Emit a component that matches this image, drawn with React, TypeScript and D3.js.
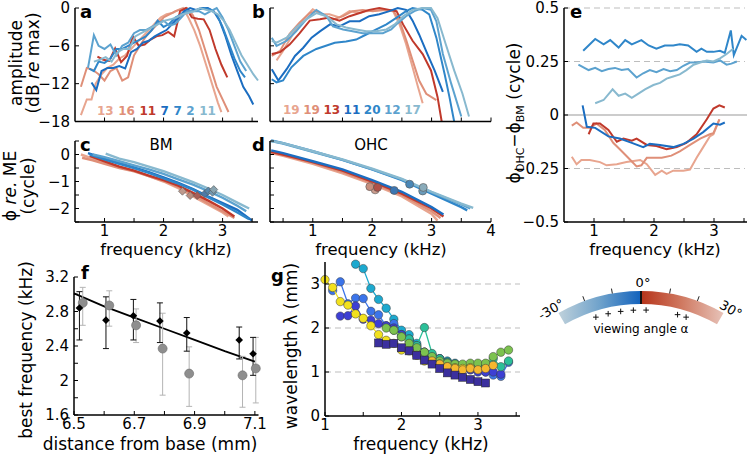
import React from "react";
import * as d3 from "d3";

const FONT = "'DejaVu Sans', Verdana, sans-serif";

// ---------- shared colours / labels ----------
const recColors = ["#e8a58f", "#df8f78", "#c0392b", "#1b6dc1", "#2f86c9", "#5ca2cf", "#88b9cf"];
const labelsA = ["13", "16", "11", "7", "7", "2", "11"];
const labelsB = ["19", "19", "13", "11", "20", "12", "17"];

// ---------- panel a : amplitude (freq kHz, dB) ----------
const ampA: [number, number][][] = [
  [[0.6,-17],[0.7,-14.5],[0.78,-14.5],[0.85,-12],[0.95,-10.5],[1.05,-9.5],[1.15,-9],[1.25,-8],[1.35,-7.5],[1.45,-6.5],[1.55,-5.5],[1.65,-4.5],[1.75,-3.5],[1.85,-2.5],[1.95,-1.5],[2.05,-1],[2.15,-0.8],[2.25,-0.3],[2.33,0],[2.42,-1.5],[2.52,-3.5],[2.62,-6],[2.72,-9],[2.82,-12],[2.92,-15],[2.98,-16.5]],
  [[0.6,-12.5],[0.7,-9.5],[0.8,-9.8],[0.9,-10.5],[1.0,-11.5],[1.1,-10],[1.2,-9.5],[1.3,-11.5],[1.4,-11],[1.5,-7.5],[1.6,-6],[1.7,-4.5],[1.8,-3.5],[1.9,-2.5],[2.0,-1.5],[2.1,-1],[2.2,-0.5],[2.3,-0.2],[2.4,0],[2.5,-1.2],[2.6,-3.5],[2.7,-6.5],[2.8,-9.5],[2.9,-12.5],[3.0,-14.5],[3.1,-16.5]],
  [[0.88,-7.7],[0.98,-8.2],[1.08,-8.4],[1.18,-6.4],[1.28,-8.6],[1.38,-7.6],[1.48,-4.5],[1.58,-6],[1.68,-5.8],[1.78,-5],[1.88,-4.5],[1.98,-4.3],[2.08,-3.8],[2.18,-4.5],[2.28,-0.5],[2.38,0],[2.48,-1.5],[2.58,-1.7],[2.68,-1.8],[2.78,-3.5],[2.88,-6.5],[2.98,-9],[3.08,-11]],
  [[0.78,-11.8],[0.86,-13],[0.95,-10],[1.05,-9.5],[1.15,-9.5],[1.25,-9.2],[1.35,-9.6],[1.45,-7],[1.55,-6.5],[1.65,-5.5],[1.75,-5.2],[1.85,-4.5],[1.95,-4],[2.05,-3.5],[2.15,-2.5],[2.25,-1.5],[2.35,-0.5],[2.45,0],[2.55,-0.3],[2.65,0],[2.75,0],[2.85,-0.5],[2.95,-2],[3.05,-4.5],[3.15,-7.5],[3.25,-10],[3.35,-12.5],[3.45,-14],[3.52,-15.3]],
  [[0.74,-9.6],[0.82,-10],[0.9,-8.5],[1.0,-8.7],[1.1,-8],[1.2,-6.5],[1.3,-6.5],[1.4,-6],[1.5,-5.5],[1.6,-5],[1.7,-4.5],[1.8,-3.5],[1.9,-2],[2.0,-3],[2.1,-2.5],[2.2,-1.5],[2.3,-1],[2.4,-0.5],[2.5,-0.5],[2.6,-0.2],[2.7,0],[2.8,-0.3],[2.9,-1],[3.0,-3],[3.1,-5.5],[3.2,-8],[3.3,-10],[3.38,-11]],
  [[0.72,-9.5],[0.82,-4.3],[0.9,-6],[1.0,-6.5],[1.1,-5.8],[1.2,-7.5],[1.3,-6],[1.4,-5.5],[1.5,-4],[1.6,-3.5],[1.7,-3.5],[1.8,-3],[1.9,-2.5],[2.0,-2],[2.1,-2.8],[2.2,-2.5],[2.3,-1.5],[2.4,-0.5],[2.5,-0.5],[2.6,-0.5],[2.7,-1],[2.8,-0.5],[2.9,0],[3.0,-1.5],[3.1,-3.5],[3.2,-6],[3.3,-8.5],[3.4,-10]],
  [[0.82,-8.5],[0.92,-8.2],[1.02,-7.8],[1.12,-8.5],[1.22,-7],[1.32,-6.5],[1.42,-6.5],[1.52,-4.5],[1.62,-4],[1.72,-3.5],[1.82,-3],[1.92,-2.5],[2.02,-2],[2.12,-1.8],[2.22,-1.5],[2.32,-1],[2.42,-0.8],[2.52,-0.5],[2.62,0],[2.72,-0.3],[2.82,-0.5],[2.92,-1],[3.02,-2],[3.12,-3.5],[3.22,-5.5],[3.32,-7.5],[3.42,-9],[3.52,-10.5],[3.6,-11.5]],
];

// ---------- panel b : amplitude OHC ----------
const ampB: [number, number][][] = [
  [[0.39,-8.3],[0.5,-6.8],[0.67,-4.1],[0.84,-1.8],[1.0,-0.2],[1.14,-1],[1.28,-1],[1.45,-1.5],[1.62,-0.5],[1.79,-0.8],[1.9,-0.5],[2.18,-0.3],[2.35,-0.5],[2.46,-2.6],[2.57,-5.7],[2.68,-9.4],[2.77,-12.5],[2.85,-15.1]],
  [[0.31,-7.6],[0.45,-6.8],[0.61,-4.1],[0.78,-2.3],[0.95,-0.8],[1.06,-0.5],[1.17,-1],[1.34,-1.8],[1.51,-1.3],[1.67,-0.5],[1.84,-0.3],[2.01,-0.5],[2.18,-0.3],[2.35,-0.3],[2.46,-2.0],[2.57,-5],[2.68,-8.3],[2.79,-11.5],[2.91,-13.6],[3.08,-14.6]],
  [[0.31,-7.3],[0.45,-7.0],[0.61,-5.8],[0.78,-4],[0.95,-2],[1.12,-1.8],[1.28,-1.5],[1.45,-2],[1.62,-1.3],[1.79,-0.8],[1.95,-0.3],[2.12,0],[2.29,-0.3],[2.41,-0.5],[2.52,-2.6],[2.68,-5.2],[2.85,-7.3],[2.99,-9.9],[3.1,-14.1],[3.17,-18]],
  [[0.31,-9.7],[0.42,-11.5],[0.56,-9.7],[0.7,-7.6],[0.84,-6.3],[0.98,-4.7],[1.12,-3.7],[1.29,-2.6],[1.45,-2.9],[1.62,-2.1],[1.79,-2.1],[1.95,-1.3],[2.12,-1],[2.29,-0.5],[2.43,0],[2.57,-0.3],[2.68,-2],[2.79,-4.2],[2.93,-7.3],[3.05,-9.9],[3.19,-13.3]],
  [[0.31,-11.3],[0.39,-11.8],[0.5,-11.5],[0.64,-9.4],[0.84,-7.6],[1.06,-6.5],[1.37,-5.5],[1.56,-5.3],[1.73,-5.0],[1.9,-4.2],[2.07,-3.4],[2.24,-2.6],[2.4,-1.6],[2.57,-0.5],[2.68,0],[2.85,-0.3],[2.96,-1],[3.08,-4.7],[3.22,-10.5],[3.3,-14.1],[3.38,-18]],
  [[0.31,-4.7],[0.39,-6],[0.56,-5.2],[0.72,-3.7],[0.89,-1.8],[1.06,-0.3],[1.23,-1.3],[1.34,-2.9],[1.51,-3.4],[1.67,-3.7],[1.84,-4.0],[2.01,-4.0],[2.18,-4.0],[2.32,-3.4],[2.43,-2.4],[2.57,-1.3],[2.71,-0.5],[2.85,0],[2.99,-0.3],[3.08,-2.1],[3.19,-7.3],[3.33,-12],[3.5,-17.2]],
  [[0.31,-5.2],[0.39,-5.5],[0.56,-4.7],[0.72,-3.1],[0.89,-1.8],[1.06,-0.8],[1.23,-1.3],[1.4,-2.6],[1.56,-3.1],[1.73,-3.4],[1.9,-3.7],[2.07,-3.7],[2.24,-3.4],[2.38,-2.6],[2.52,-1.3],[2.68,-0.3],[2.85,0],[2.99,0],[3.1,-1.6],[3.24,-5.8],[3.38,-9.9],[3.52,-13.6],[3.63,-17.2]],
];

// ---------- panel c : BM phase ----------
const phaseC: [number, number][][] = [
  [[0.6,0.0],[0.8,-0.15],[1.0,-0.3],[1.25,-0.45],[1.5,-0.6],[1.75,-0.8],[2.0,-1.0],[2.25,-1.25],[2.5,-1.55],[2.75,-1.85],[3.0,-2.15],[3.1,-2.3]],
  [[0.62,-0.12],[0.8,-0.22],[1.0,-0.35],[1.25,-0.5],[1.5,-0.62],[1.75,-0.8],[2.0,-0.98],[2.25,-1.2],[2.5,-1.48],[2.75,-1.8],[3.0,-2.1],[3.2,-2.35]],
  [[0.75,-0.05],[1.0,-0.25],[1.25,-0.45],[1.5,-0.6],[1.75,-0.78],[2.0,-0.95],[2.25,-1.15],[2.5,-1.42],[2.75,-1.7],[3.0,-2.0],[3.2,-2.3]],
  [[0.72,0.05],[1.0,-0.15],[1.25,-0.32],[1.5,-0.48],[1.75,-0.65],[2.0,-0.85],[2.25,-1.05],[2.5,-1.28],[2.75,-1.55],[3.0,-1.8],[3.25,-2.05],[3.5,-2.45]],
  [[0.75,0.0],[1.0,-0.18],[1.25,-0.35],[1.5,-0.5],[1.75,-0.68],[2.0,-0.88],[2.25,-1.08],[2.5,-1.3],[2.75,-1.58],[3.0,-1.85],[3.25,-2.15],[3.45,-2.4]],
  [[0.8,0.0],[1.0,-0.1],[1.25,-0.25],[1.5,-0.4],[1.75,-0.55],[2.0,-0.72],[2.25,-0.92],[2.5,-1.12],[2.75,-1.35],[3.0,-1.6],[3.25,-1.9],[3.4,-2.1]],
  [[1.02,0.03],[1.25,-0.15],[1.5,-0.28],[1.75,-0.45],[2.0,-0.62],[2.25,-0.82],[2.5,-1.02],[2.75,-1.25],[3.0,-1.5],[3.25,-1.78],[3.45,-2.0]],
];
const bfC: [number, number][] = [[2.32,-1.36],[2.45,-1.52],[2.57,-1.52],[2.7,-1.45],[2.76,-1.35],[2.83,-1.4],[2.85,-1.3]];

// ---------- panel d : OHC phase ----------
const phaseD: [number, number][][] = [
  [[0.3,0.05],[0.5,-0.05],[1.0,-0.35],[1.5,-0.7],[2.0,-1.1],[2.5,-1.55],[3.0,-2.2],[3.1,-2.45]],
  [[0.3,0.08],[0.5,-0.02],[1.0,-0.3],[1.5,-0.65],[2.0,-1.05],[2.5,-1.5],[3.0,-2.1],[3.15,-2.35]],
  [[0.3,0.1],[0.5,0.0],[1.0,-0.28],[1.5,-0.6],[2.0,-1.0],[2.5,-1.45],[3.0,-2.0],[3.2,-2.3]],
  [[0.3,0.15],[0.5,0.05],[1.0,-0.25],[1.5,-0.55],[2.0,-0.95],[2.5,-1.38],[3.0,-1.95],[3.2,-2.22]],
  [[0.3,0.52],[0.5,0.42],[1.0,0.12],[1.5,-0.2],[2.0,-0.55],[2.5,-0.95],[3.0,-1.45],[3.5,-1.95],[3.6,-2.07]],
  [[0.3,0.5],[0.5,0.4],[1.0,0.1],[1.5,-0.2],[2.0,-0.55],[2.5,-0.92],[3.0,-1.4],[3.5,-1.85],[3.65,-2.0]],
  [[0.3,0.5],[0.5,0.42],[1.0,0.12],[1.5,-0.18],[2.0,-0.52],[2.5,-0.9],[3.0,-1.38],[3.5,-1.82],[3.7,-1.98]],
];
const bfD: [number, number][] = [[2.05,-1.31],[1.96,-1.19],[2.09,-1.22],[2.37,-1.33],[2.63,-1.1],[2.85,-1.35],[2.86,-1.22]];

// ---------- panel e : phase difference ----------
const diffE: [number, number][][] = [
  [[0.63,-0.195],[0.71,-0.23],[0.79,-0.21],[0.93,-0.21],[1.1,-0.22],[1.21,-0.235],[1.38,-0.23],[1.54,-0.22],[1.66,-0.215],[1.77,-0.21],[1.88,-0.23],[2.02,-0.28],[2.13,-0.26],[2.21,-0.275],[2.32,-0.26],[2.49,-0.26],[2.6,-0.255],[2.71,-0.2],[2.82,-0.15],[2.93,-0.1],[2.99,-0.09],[3.09,-0.02]],
  [[0.63,-0.05],[0.71,-0.035],[0.82,-0.06],[0.93,-0.06],[1.04,-0.04],[1.18,-0.07],[1.32,-0.13],[1.43,-0.16],[1.57,-0.2],[1.71,-0.24],[1.79,-0.235],[1.88,-0.2],[1.99,-0.2],[2.13,-0.2],[2.29,-0.19],[2.43,-0.17],[2.6,-0.14],[2.77,-0.11],[2.93,-0.09],[2.99,-0.085],[3.09,-0.02]],
  [[0.91,-0.09],[0.99,-0.04],[1.1,-0.04],[1.24,-0.07],[1.38,-0.125],[1.49,-0.11],[1.63,-0.12],[1.71,-0.11],[1.88,-0.14],[2.04,-0.145],[2.21,-0.16],[2.38,-0.15],[2.54,-0.13],[2.71,-0.09],[2.88,-0.02],[2.99,0.03],[3.09,0.045],[3.18,0.035]],
  [[0.81,0.045],[0.88,-0.055],[1.02,-0.06],[1.24,-0.1],[1.43,-0.11],[1.63,-0.13],[1.82,-0.15],[1.93,-0.135],[2.1,-0.14],[2.32,-0.15],[2.49,-0.135],[2.66,-0.11],[2.82,-0.08],[2.99,-0.04],[3.1,-0.045],[3.18,-0.035]],
  [[0.82,0.30],[1.02,0.355],[1.16,0.33],[1.27,0.35],[1.41,0.315],[1.52,0.35],[1.63,0.33],[1.79,0.35],[1.91,0.325],[2.04,0.31],[2.18,0.325],[2.32,0.325],[2.43,0.33],[2.57,0.325],[2.71,0.295],[2.79,0.31],[2.88,0.295],[2.99,0.295],[3.1,0.30],[3.18,0.29],[3.28,0.395],[3.33,0.28],[3.46,0.37],[3.54,0.35]],
  [[0.74,0.235],[0.91,0.21],[1.02,0.22],[1.13,0.205],[1.24,0.215],[1.35,0.22],[1.46,0.21],[1.57,0.215],[1.71,0.175],[1.82,0.195],[1.93,0.21],[2.04,0.2],[2.16,0.215],[2.27,0.205],[2.38,0.21],[2.49,0.23],[2.6,0.245],[2.71,0.245],[2.82,0.25],[2.99,0.245],[3.1,0.255],[3.21,0.235],[3.29,0.24],[3.38,0.25]],
  [[1.02,0.055],[1.16,0.07],[1.31,0.12],[1.41,0.09],[1.52,0.1],[1.63,0.08],[1.74,0.1],[1.85,0.12],[1.99,0.14],[2.1,0.15],[2.21,0.17],[2.32,0.18],[2.43,0.19],[2.54,0.21],[2.66,0.235],[2.77,0.245],[2.88,0.255],[2.99,0.25],[3.1,0.265],[3.21,0.285],[3.32,0.31]],
];
const diffColors = ["#e8a58f", "#df8f78", "#c0392b", "#1b6dc1", "#2f86c9", "#5ca2cf", "#88b9cf"];

// ---------- panel f : best frequency vs distance ----------
const distBlack = [6.518, 6.606, 6.697, 6.785, 6.874, 7.048, 7.094];
const bfBlack = [2.84, 2.70, 2.75, 2.69, 2.55, 2.47, 2.31];
const bfBlackHi = [3.03, 2.97, 2.94, 2.90, 2.73, 2.62, 2.50];
const bfBlackLo = [2.47, 2.37, 2.47, 2.44, 2.34, 2.25, 2.06];
const distGray = [6.529, 6.617, 6.706, 6.794, 6.882, 7.059, 7.103];
const bfGray = [2.90, 2.87, 2.64, 2.37, 2.08, 2.06, 2.14];
const bfGrayHi = [3.08, 3.04, 2.83, 2.78, 2.39, 2.28, 2.50];
const bfGrayLo = [2.64, 2.63, 2.44, 1.83, 1.70, 1.69, 1.74];
const fitLine: [number, number][] = [[6.5,3.01],[6.6,2.86],[6.7,2.73],[6.8,2.6],[6.9,2.47],[7.0,2.34],[7.1,2.22]];

// ---------- panel g : wavelength ----------
const waveG: [number, number][][] = [
  [[1.4,3.45],[1.5,3.35],[1.6,2.9],[1.7,2.65],[1.8,2.45],[1.9,2.2],[2.0,1.95],[2.1,1.85],[2.2,1.65],[2.3,1.45],[2.4,1.38],[2.5,1.3],[2.6,1.25],[2.7,1.2],[2.8,1.12],[2.9,1.1],[3.0,1.08],[3.1,1.1]],
  [[1.1,2.85],[1.2,3.05],[1.3,2.55],[1.4,2.68],[1.5,2.67],[1.6,2.38],[1.7,2.3],[1.8,2.05],[1.9,2.1],[2.0,1.85],[2.1,1.75],[2.2,1.6],[2.3,1.45],[2.4,1.38],[2.5,1.3],[2.6,1.2],[2.7,1.15],[2.8,1.1],[2.9,1.05],[3.0,1.05],[3.1,1.0],[3.2,0.93],[3.3,0.9],[3.4,1.22]],
  [[1.2,2.27],[1.3,2.28],[1.4,2.5],[1.5,2.2],[1.6,2.18],[1.7,2.1],[1.8,2.05],[1.9,2.0],[2.0,1.85],[2.1,1.7],[2.2,1.55],[2.3,1.45],[2.4,1.35],[2.5,1.3],[2.6,1.22],[2.7,1.15],[2.8,1.1],[2.9,1.05],[3.0,1.0],[3.1,1.0],[3.2,1.0],[3.3,0.95]],
  [[1.9,1.95],[2.0,1.8],[2.1,1.75],[2.2,1.6],[2.3,2.01],[2.4,1.42],[2.5,1.3],[2.6,1.22],[2.7,1.18],[2.8,1.15],[2.9,1.12],[3.0,1.15],[3.1,1.18],[3.2,1.3],[3.3,1.12],[3.4,1.25]],
  [[1.8,2.0],[1.9,1.95],[2.0,1.8],[2.1,1.65],[2.2,1.55],[2.3,1.45],[2.4,1.35],[2.5,1.25],[2.6,1.2],[2.7,1.18],[2.8,1.18],[2.9,1.2],[3.0,1.2],[3.1,1.2],[3.2,1.35],[3.3,1.45],[3.4,1.5]],
  [[1.0,3.1],[1.1,2.92],[1.2,2.6],[1.3,2.52],[1.4,2.32],[1.5,2.22],[1.6,2.05],[1.7,1.85],[1.8,1.72],[1.9,1.65],[2.0,1.5],[2.1,1.48],[2.2,1.38],[2.3,1.25],[2.4,1.2],[2.5,1.18],[2.6,1.12],[2.7,1.1],[2.8,1.08],[2.9,1.1]],
  [[2.4,1.25],[2.5,1.18],[2.6,1.12],[2.7,1.08],[2.8,1.05],[2.9,1.08],[3.0,1.05],[3.1,1.08],[3.2,1.15]],
];
const waveColors = ["#1ca9cf", "#3b74ea", "#3d3fd4", "#2bbf98", "#7cc24f", "#f2e11e", "#f6b72f"];
const waveSquares: [number, number][] = [[1.7,1.66],[1.8,1.63],[1.9,1.65],[2.0,1.55],[2.1,1.48],[2.2,1.38],[2.3,1.27],[2.4,1.18],[2.5,1.08],[2.6,0.98],[2.7,0.93],[2.8,0.88],[2.9,0.83],[3.0,0.78],[3.1,0.75]];
const squareColor = "#3b2f9e";

// ---------- colour bar ----------
const viewAngles = [-18, -13, -8, -3, 2, 14.5, 18];
const angleTicks = [-20, -10, 10, 20];

type Scale = d3.ScaleLinear<number, number>;
const fmt = (v: number) => (v < 0 ? "\u2212" + String(Math.abs(v)) : String(v));

function YAxis({ s, x, ticks, labels, fs = 15 }: { s: Scale; x: number; ticks: number[]; labels: number[]; fs?: number }) {
  const [r0, r1] = s.range();
  return (
    <g>
      <line x1={x} x2={x} y1={r0} y2={r1} stroke="#000" strokeWidth={1.5} />
      {ticks.map((t) => (
        <line key={"t" + t} x1={x} x2={x + 4} y1={s(t)} y2={s(t)} stroke="#000" strokeWidth={1} />
      ))}
      {labels.map((t) => (
        <text key={"l" + t} x={x - 5} y={s(t)} dy="0.36em" textAnchor="end" fontSize={fs}>
          {fmt(t)}
        </text>
      ))}
    </g>
  );
}

function XAxis({ s, y, ticks, labels, off = 14, fs = 15 }: { s: Scale; y: number; ticks: number[]; labels: number[]; off?: number; fs?: number }) {
  const [r0, r1] = s.range();
  return (
    <g>
      <line x1={r0} x2={r1} y1={y} y2={y} stroke="#000" strokeWidth={1.5} />
      {ticks.map((t) => (
        <line key={"t" + t} x1={s(t)} x2={s(t)} y1={y} y2={y - 4} stroke="#000" strokeWidth={1} />
      ))}
      {labels.map((t) => (
        <text key={"l" + t} x={s(t)} y={y + off} textAnchor="middle" fontSize={fs}>
          {fmt(t)}
        </text>
      ))}
    </g>
  );
}

const mkLine = (xs: Scale, ys: Scale) =>
  d3.line<[number, number]>().x((d) => xs(d[0])).y((d) => ys(d[1]));

export default function App() {
  // scales
  const xA = d3.scaleLinear().domain([0.5, 3.6]).range([75, 258]);
  const yA = d3.scaleLinear().domain([-18, 0]).range([121.5, 8]);
  const xB = d3.scaleLinear().domain([0.28, 4.0]).range([270, 491]);
  const yC = d3.scaleLinear().domain([-2.5, 0.5]).range([222, 141]);
  const xE = d3.scaleLinear().domain([0.5, 3.55]).range([564, 747]);
  const yE = d3.scaleLinear().domain([-0.5, 0.5]).range([222, 8]);
  const xF = d3.scaleLinear().domain([6.5, 7.112]).range([74, 258.5]);
  const yF = d3.scaleLinear().domain([1.6, 3.2]).range([415, 277]);
  const xG = d3.scaleLinear().domain([1, 3.55]).range([325, 520]);
  const yG = d3.scaleLinear().domain([0, 3.5]).range([416, 262]);

  const lA = mkLine(xA, yA);
  const lB = mkLine(xB, yA);
  const lC = mkLine(xA, yC);
  const lD = mkLine(xB, yC);
  const lE = mkLine(xE, yE);
  const lF = mkLine(xF, yF);
  const lG = mkLine(xG, yG);

  const freqTicksA = [1, 1.5, 2, 2.5, 3, 3.5];
  const freqTicksB = [0.5, 1, 1.5, 2, 2.5, 3, 3.5, 4];
  const phaseTicks = [-2.5, -2, -1.5, -1, -0.5, 0, 0.5];

  // colour bar geometry
  const cx = 641, cy = 456, rIn = 152, rOut = 165;
  const arcGen = d3.arc();
  const deg = Math.PI / 180;
  const leftArc = arcGen({ innerRadius: rIn, outerRadius: rOut, startAngle: -30 * deg, endAngle: 0 }) as string;
  const rightArc = arcGen({ innerRadius: rIn, outerRadius: rOut, startAngle: 0, endAngle: 30 * deg }) as string;
  const polar = (a: number, r: number) => [cx + r * Math.sin(a * deg), cy - r * Math.cos(a * deg)];

  const diamond = (x: number, y: number, r: number) => `M${x},${y - r}L${x + r},${y}L${x},${y + r}L${x - r},${y}Z`;

  const [lx, ly] = polar(-31.5, rOut + 7);
  const [rx, ry] = polar(31.5, rOut + 7);

  return (
    <svg
      width={748}
      height={458}
      style={{ position: "fixed", left: 0, top: 0, background: "#fff" }}
      fontFamily={FONT}
    >
      <defs>
        <linearGradient id="gradL" gradientUnits="userSpaceOnUse" x1={-rOut * 0.5} x2={0} y1={0} y2={0}>
          <stop offset="0" stopColor="#bfd1db" />
          <stop offset="0.5" stopColor="#6fa2cb" />
          <stop offset="1" stopColor="#1262bd" />
        </linearGradient>
        <linearGradient id="gradR" gradientUnits="userSpaceOnUse" x1={0} x2={rOut * 0.5} y1={0} y2={0}>
          <stop offset="0" stopColor="#b6341a" />
          <stop offset="0.5" stopColor="#d07a62" />
          <stop offset="1" stopColor="#e7c3b9" />
        </linearGradient>
      </defs>

      {/* ================= panel a ================= */}
      <g>
        {ampA.map((s, i) => (
          <path key={i} d={lA(s) as string} fill="none" stroke={recColors[i]} strokeWidth={2} />
        ))}
        <YAxis s={yA} x={75} ticks={[0, -6, -12, -18]} labels={[0, -6, -12, -18]} />
        <XAxis s={xA} y={121.5} ticks={freqTicksA} labels={[]} />
        <text x={80} y={18} fontSize={18} fontWeight="bold">a</text>
        <text x={97} y={115} fontSize={12} fontWeight="bold">
          {labelsA.map((l, i) => (
            <tspan key={i} fill={recColors[i]} dx={i === 0 ? 0 : 4.5}>
              {l}
            </tspan>
          ))}
        </text>
        <text transform="translate(22,63) rotate(-90)" textAnchor="middle" fontSize={17}>amplitude</text>
        <text transform="translate(39,63) rotate(-90)" textAnchor="middle" fontSize={17}>
          (dB <tspan fontStyle="italic">re</tspan> max)
        </text>
      </g>

      {/* ================= panel b ================= */}
      <g>
        {ampB.map((s, i) => (
          <path key={i} d={lB(s) as string} fill="none" stroke={recColors[i]} strokeWidth={2} />
        ))}
        <YAxis s={yA} x={270} ticks={[0, -6, -12, -18]} labels={[]} />
        <XAxis s={xB} y={121.5} ticks={freqTicksB} labels={[]} />
        <text x={252} y={18} fontSize={18} fontWeight="bold">b</text>
        <text x={283} y={114} fontSize={12} fontWeight="bold">
          {labelsB.map((l, i) => (
            <tspan key={i} fill={recColors[i]} dx={i === 0 ? 0 : 3.5}>
              {l}
            </tspan>
          ))}
        </text>
      </g>

      {/* ================= panel c ================= */}
      <g>
        {phaseC.map((s, i) => (
          <path key={i} d={lC(s) as string} fill="none" stroke={recColors[i]} strokeWidth={2.4} />
        ))}
        {bfC.map((p, i) => (
          <path
            key={i}
            d={diamond(xA(p[0]), yC(p[1]), 4)}
            fill={d3.interpolateRgb(recColors[i], "#8a8a8a")(0.45)}
            stroke="#555"
            strokeWidth={0.6}
          />
        ))}
        <YAxis s={yC} x={75} ticks={phaseTicks} labels={[0, -1, -2]} />
        <XAxis s={xA} y={222} ticks={freqTicksA} labels={[1, 2, 3]} />
        <text x={80} y={151} fontSize={18} fontWeight="bold">c</text>
        <text x={161} y={150} fontSize={15} textAnchor="middle">BM</text>
        <text x={166} y={255} fontSize={16.5} textAnchor="middle">frequency (kHz)</text>
        <text transform="translate(16,186) rotate(-90)" textAnchor="middle" fontSize={17}>
          ϕ <tspan fontStyle="italic">re.</tspan> ME
        </text>
        <text transform="translate(34,186) rotate(-90)" textAnchor="middle" fontSize={17}>(cycle)</text>
      </g>

      {/* ================= panel d ================= */}
      <g>
        {phaseD.map((s, i) => (
          <path key={i} d={lD(s) as string} fill="none" stroke={recColors[i]} strokeWidth={2.4} />
        ))}
        {bfD.map((p, i) => (
          <circle
            key={i}
            cx={xB(p[0])}
            cy={yC(p[1])}
            r={4}
            fill={d3.interpolateRgb(recColors[i], "#8a8a8a")(0.3)}
            stroke="#555"
            strokeWidth={0.6}
          />
        ))}
        <YAxis s={yC} x={270} ticks={phaseTicks} labels={[]} />
        <XAxis s={xB} y={222} ticks={freqTicksB} labels={[1, 2, 3, 4]} />
        <text x={252} y={151} fontSize={18} fontWeight="bold">d</text>
        <text x={371} y={150} fontSize={15} textAnchor="middle">OHC</text>
        <text x={381} y={255} fontSize={16.5} textAnchor="middle">frequency (kHz)</text>
      </g>

      {/* ================= panel e ================= */}
      <g>
        {[0.5, 0.25, -0.25].map((v) => (
          <line key={v} x1={564} x2={745} y1={yE(v)} y2={yE(v)} stroke="#bdbdbd" strokeWidth={1} strokeDasharray="6 4" />
        ))}
        <line x1={564} x2={747} y1={yE(0)} y2={yE(0)} stroke="#9a9a9a" strokeWidth={1.2} />
        {diffE.map((s, i) => (
          <path key={i} d={lE(s) as string} fill="none" stroke={diffColors[i]} strokeWidth={2} />
        ))}
        <YAxis s={yE} x={564} ticks={[0.5, 0.25, 0, -0.25, -0.5]} labels={[0.5, 0.25, 0, -0.25, -0.5]} />
        <XAxis s={xE} y={222} ticks={freqTicksA} labels={[1, 2, 3]} />
        <text x={570} y={18} fontSize={18} fontWeight="bold">e</text>
        <text x={655} y={255} fontSize={16.5} textAnchor="middle">frequency (kHz)</text>
        <text transform="translate(520,113) rotate(-90)" textAnchor="middle" fontSize={17}>
          ϕ<tspan fontSize={11} dy={4}>OHC</tspan>
          <tspan dy={-4}>−ϕ</tspan>
          <tspan fontSize={11} dy={4}>BM</tspan>
          <tspan dy={-4}> (cycle)</tspan>
        </text>
      </g>

      {/* ================= panel f ================= */}
      <g>
        <path d={lF(fitLine) as string} fill="none" stroke="#000" strokeWidth={1.8} />
        {distGray.map((d, i) => (
          <g key={"g" + i}>
            <line x1={xF(d)} x2={xF(d)} y1={yF(bfGrayLo[i])} y2={yF(bfGrayHi[i])} stroke="#b4b4b4" strokeWidth={1} />
            <line x1={xF(d) - 3} x2={xF(d) + 3} y1={yF(bfGrayLo[i])} y2={yF(bfGrayLo[i])} stroke="#b4b4b4" strokeWidth={1} />
            <line x1={xF(d) - 3} x2={xF(d) + 3} y1={yF(bfGrayHi[i])} y2={yF(bfGrayHi[i])} stroke="#b4b4b4" strokeWidth={1} />
          </g>
        ))}
        {distBlack.map((d, i) => (
          <g key={"b" + i}>
            <line x1={xF(d)} x2={xF(d)} y1={yF(bfBlackLo[i])} y2={yF(bfBlackHi[i])} stroke="#111" strokeWidth={1} />
            <line x1={xF(d) - 3} x2={xF(d) + 3} y1={yF(bfBlackLo[i])} y2={yF(bfBlackLo[i])} stroke="#111" strokeWidth={1} />
            <line x1={xF(d) - 3} x2={xF(d) + 3} y1={yF(bfBlackHi[i])} y2={yF(bfBlackHi[i])} stroke="#111" strokeWidth={1} />
          </g>
        ))}
        {distGray.map((d, i) => (
          <circle key={"gc" + i} cx={xF(d)} cy={yF(bfGray[i])} r={4.5} fill="#8e8e8e" stroke="#6a6a6a" strokeWidth={0.6} />
        ))}
        {distBlack.map((d, i) => (
          <path key={"bd" + i} d={diamond(xF(d), yF(bfBlack[i]), 3.8)} fill="#000" />
        ))}
        <YAxis s={yF} x={74} ticks={[1.6, 1.8, 2, 2.2, 2.4, 2.6, 2.8, 3, 3.2]} labels={[3.2, 2.8, 2.4, 2, 1.6]} />
        <XAxis s={xF} y={415} ticks={[6.5, 6.6, 6.7, 6.8, 6.9, 7.0, 7.1]} labels={[6.5, 6.7, 6.9, 7.1]} off={14} />
        <text x={81} y={279} fontSize={18} fontWeight="bold">f</text>
        <text x={150} y={450} fontSize={17} textAnchor="middle">distance from base (mm)</text>
        <text transform="translate(32,350) rotate(-90)" textAnchor="middle" fontSize={17}>best frequency (kHz)</text>
      </g>

      {/* ================= panel g ================= */}
      <g>
        {[1, 2, 3].map((v) => (
          <line key={v} x1={325} x2={520} y1={yG(v)} y2={yG(v)} stroke="#bdbdbd" strokeWidth={1} strokeDasharray="6 4" />
        ))}
        {waveG.map((s, i) => (
          <g key={i}>
            <path d={lG(s) as string} fill="none" stroke={waveColors[i]} strokeWidth={1.3} />
            {s.map((p, j) => (
              <circle key={j} cx={xG(p[0])} cy={yG(p[1])} r={4.2} fill={waveColors[i]} stroke="#3a3a3a" strokeWidth={0.5} />
            ))}
          </g>
        ))}
        <path d={lG(waveSquares) as string} fill="none" stroke={squareColor} strokeWidth={1.3} />
        {waveSquares.map((p, j) => (
          <rect key={j} x={xG(p[0]) - 4} y={yG(p[1]) - 4} width={8} height={8} fill={squareColor} stroke="#222" strokeWidth={0.5} />
        ))}
        <YAxis s={yG} x={325} ticks={[0, 1, 2, 3]} labels={[0, 1, 2, 3]} />
        <XAxis s={xG} y={416} ticks={[1, 1.5, 2, 2.5, 3, 3.5]} labels={[1, 2, 3]} off={14} />
        <text x={271} y={282} fontSize={18} fontWeight="bold">g</text>
        <text x={421} y={450} fontSize={17} textAnchor="middle">frequency (kHz)</text>
        <text transform="translate(297,346) rotate(-90)" textAnchor="middle" fontSize={17}>wavelength λ (mm)</text>
      </g>

      {/* ================= colour bar ================= */}
      <g>
        <path d={leftArc} transform={`translate(${cx},${cy})`} fill="url(#gradL)" />
        <path d={rightArc} transform={`translate(${cx},${cy})`} fill="url(#gradR)" />
        <line x1={cx} x2={cx} y1={cy - rIn} y2={cy - rOut} stroke="#111" strokeWidth={2} />
        {angleTicks.map((a) => {
          const [x1, y1] = polar(a, rOut);
          const [x2, y2] = polar(a, rOut + 5);
          return <line key={a} x1={x1} y1={y1} x2={x2} y2={y2} stroke="#222" strokeWidth={1} />;
        })}
        {viewAngles.map((a, i) => {
          const [px, py] = polar(a, rIn - 6);
          return (
            <g key={i} stroke="#111" strokeWidth={1}>
              <line x1={px - 2.8} x2={px + 2.8} y1={py} y2={py} />
              <line x1={px} x2={px} y1={py - 2.8} y2={py + 2.8} />
            </g>
          );
        })}
        <text x={cx + 2} y={287} fontSize={13} textAnchor="middle">0°</text>
        <g fontSize={13}>
          <text transform={`translate(${lx},${ly}) rotate(-30)`} textAnchor="middle" dy="0.35em">-30°</text>
          <text transform={`translate(${rx},${ry}) rotate(30)`} textAnchor="middle" dy="0.35em">30°</text>
        </g>
        <text x={cx} y={333} fontSize={12} textAnchor="middle">viewing angle α</text>
      </g>
    </svg>
  );
}
